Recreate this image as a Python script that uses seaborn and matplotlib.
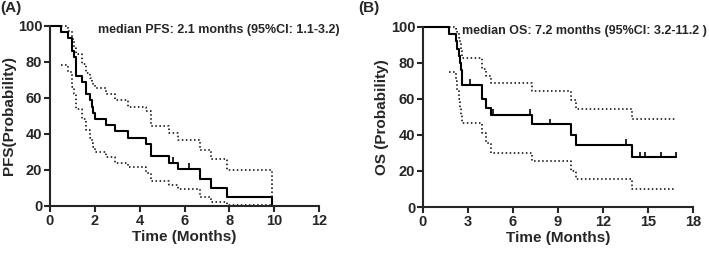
import matplotlib
matplotlib.use("Agg")
import matplotlib.pyplot as plt
import seaborn as sns
import pandas as pd

# Panel A: progression-free survival (step curve + 95% CI)
pfs_time = [0, 0.48, 0.79, 0.97, 1.07, 1.16, 1.41, 1.6, 1.78, 1.87, 1.93, 2.0,
            2.5, 2.9, 3.5, 4.3, 4.5, 5.3, 5.7, 6.7, 7.2, 7.9, 9.9]
pfs_surv = [100, 96.6, 93.1, 86.2, 82.8, 72.4, 69.0, 62.1, 58.6, 55.2, 51.7, 48.3,
            44.8, 41.4, 37.9, 34.5, 27.6, 24.1, 20.5, 15.2, 10.1, 5.1, 0]
pfs_upper = [None, 100, 97, 93, 88, 84.5, 79, 74, 71, 69, 67, 65.7,
             62, 58.7, 55, 52.5, 44.4, 40.5, 36.5, 31, 26.3, 19.8, 0]
pfs_lower = [None, 78.5, 74.5, 66, 62, 54, 48.5, 42, 38, 35, 32.5, 30,
             27, 24, 21.5, 18.5, 13.7, 11.5, 9.5, 5, 2, 0.5, 0]
pfs_cens_t = [5.48, 6.2]
pfs_cens_s = [24.1, 20.5]

# Panel B: overall survival
os_time = [0, 1.75, 2.2, 2.3, 2.38, 2.45, 2.52, 2.58, 3.91, 4.18, 4.53,
           7.27, 9.87, 10.2, 13.93, 16.87]
os_surv = [100, 96, 92, 88, 84, 80, 76, 68, 59.8, 55.2, 51,
           45.9, 40.2, 34.4, 27.6, 27.6]
os_upper = [None, 100, 99, 97, 94, 91, 88, 83, 76.6, 73, 69,
            64.6, 59.5, 54.4, 48.6, 48.6]
os_lower = [None, 75, 70, 65, 60, 55, 51, 46.5, 41, 35.5, 30,
            25.4, 19.8, 15.8, 10, 10]
os_cens_t = [3.13, 4.7, 7.13, 8.5, 13.53, 14.5, 14.8, 15.87, 16.87]
os_cens_s = [68, 51, 51, 45.9, 34.4, 27.6, 27.6, 27.6, 27.6]

sns.set_style("ticks")
plt.rcParams["font.family"] = ["Liberation Sans", "DejaVu Sans"]
plt.rcParams["font.weight"] = "bold"

fig = plt.figure(figsize=(7.09, 2.54), dpi=100)
axA = fig.add_axes([0.0705, 0.189, 0.3795, 0.709])
axB = fig.add_axes([0.5966, 0.185, 0.3808, 0.709])


def km_panel(ax, t, s, up, lo, ct, cs, xmax, xstep, ylabel, note, note_x):
    df = pd.DataFrame({"t": t, "s": s, "up": up, "lo": lo}).astype(float)
    sns.lineplot(data=df, x="t", y="s", ax=ax, color="black", lw=1.5,
                 drawstyle="steps-post", clip_on=False)
    ci = df.dropna()
    for col in ["up", "lo"]:
        sns.lineplot(data=ci, x="t", y=col, ax=ax, color="black", lw=1.1,
                     linestyle=":", drawstyle="steps-post", clip_on=False)
    ax.plot(ct, [v + 1.5 for v in cs], ls="none", marker="|", ms=5,
            mew=1.2, color="black", clip_on=False)
    ax.set_xlim(0, xmax)
    ax.set_ylim(0, 100)
    ax.set_xticks(range(0, xmax + 1, xstep))
    ax.set_yticks(range(0, 101, 20))
    ax.set_xlabel("Time (Months)", fontsize=11, fontweight="bold", labelpad=2)
    ax.set_ylabel(ylabel, fontsize=11, fontweight="bold", labelpad=1)
    ax.tick_params(width=1.5, length=4, labelsize=10.5, pad=1.5)
    for lab in ax.get_xticklabels() + ax.get_yticklabels():
        lab.set_fontweight("bold")
    for sp in ["left", "bottom"]:
        ax.spines[sp].set_linewidth(1.5)
    sns.despine(ax=ax)
    ax.text(note_x, 97.5, note, fontsize=9, fontweight="bold",
            va="center", ha="left", clip_on=False)


km_panel(axA, pfs_time, pfs_surv, pfs_upper, pfs_lower, pfs_cens_t, pfs_cens_s,
         12, 2, "PFS(Probability)",
         "median PFS: 2.1 months (95%CI: 1.1-3.2)", 2.15)
km_panel(axB, os_time, os_surv, os_upper, os_lower, os_cens_t, os_cens_s,
         18, 3, "OS (Probability)",
         "median OS: 7.2 months (95%CI: 3.2-11.2 )", 2.6)

fig.text(0.001, 0.998, "(A)", fontsize=11, fontweight="bold", va="top", ha="left")
fig.text(0.505, 0.998, "(B)", fontsize=11, fontweight="bold", va="top", ha="left")

fig.savefig("out.png", dpi=100)
